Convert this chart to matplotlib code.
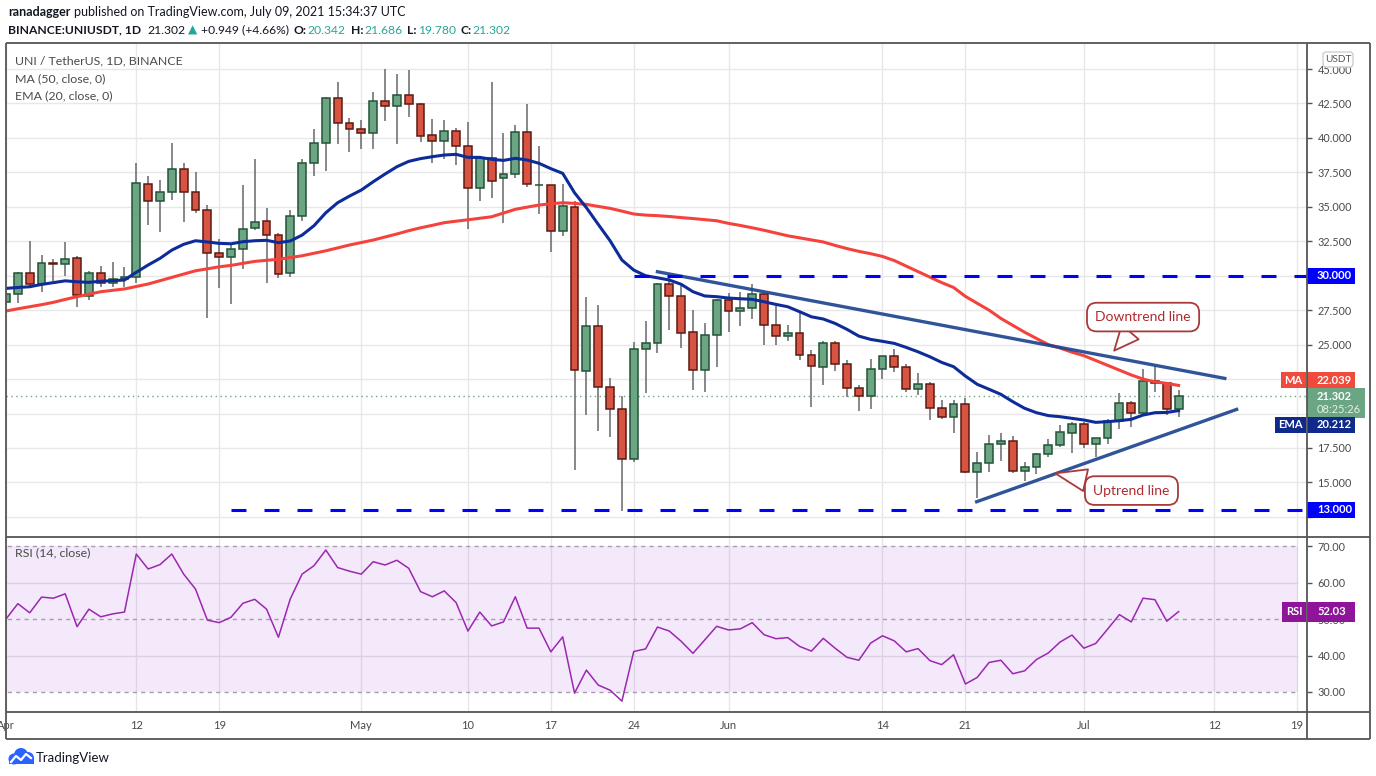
import matplotlib.pyplot as plt
from matplotlib.patches import Rectangle, FancyBboxPatch, Circle
import numpy as np
import pandas as pd

plt.rcParams['font.family'] = ['Lato', 'DejaVu Sans']
plt.rcParams['lines.scale_dashes'] = True

# ---- data (UNI/USDT daily, Binance) ----
dates = pd.date_range('2021-04-01', '2021-07-09', freq='D')

opens = [28.10, 28.65, 30.17, 29.37, 30.90, 30.83, 31.26, 28.50, 30.17, 29.50,
         29.74, 29.90, 36.63, 35.40, 36.05, 37.72, 36.10, 34.75, 31.63, 31.33,
         31.92, 33.44, 33.95, 32.93, 30.17, 34.30, 38.16, 39.60, 42.87, 41.06,
         40.63, 40.33, 42.66, 42.30, 43.10, 42.44, 40.19, 39.75, 40.48, 39.39,
         36.34, 38.52, 37.10, 37.39, 40.40, 36.56, 36.56, 33.22, 34.97, 23.07,
         26.33, 21.90, 20.30, 16.68, 24.66, 25.10, 29.38, 28.50, 25.90, 23.14,
         25.68, 28.22, 27.42, 27.63, 28.65, 26.40, 25.60, 25.82, 24.22, 23.35,
         25.10, 23.57, 21.83, 21.25, 23.20, 24.15, 23.35, 21.76, 22.12, 20.38,
         19.73, 20.67, 15.73, 16.38, 17.76, 17.98, 15.80, 16.10, 17.04, 17.69,
         18.56, 19.22, 17.77, 18.20, 19.43, 20.74, 20.02, 22.34, 22.19, 20.342]
highs = [28.80, 30.30, 32.50, 31.50, 31.20, 32.45, 31.40, 30.34, 30.70, 31.00,
         30.60, 38.16, 37.23, 36.95, 39.63, 38.16, 37.50, 35.13, 32.70, 32.40,
         36.58, 38.47, 34.90, 33.08, 34.80, 38.50, 40.65, 42.95, 44.06, 41.44,
         41.30, 43.30, 45.00, 44.64, 44.93, 42.55, 41.37, 41.30, 40.70, 41.15,
         38.60, 44.06, 40.36, 40.94, 42.46, 39.40, 36.60, 36.63, 35.44, 28.43,
         27.90, 22.55, 21.27, 25.17, 26.70, 29.50, 29.80, 29.38, 27.49, 26.60,
         28.30, 28.72, 28.80, 29.38, 28.72, 27.78, 26.40, 27.34, 24.59, 25.24,
         25.24, 23.90, 22.05, 23.96, 24.20, 24.66, 23.57, 22.92, 22.26, 20.96,
         20.96, 21.10, 17.18, 18.42, 18.56, 18.35, 16.46, 17.10, 18.13, 19.14,
         19.36, 19.36, 18.25, 19.58, 21.47, 20.93, 23.20, 23.47, 22.30, 21.686]
lows = [27.90, 28.00, 29.20, 28.85, 29.60, 30.00, 27.75, 28.24, 29.20, 29.20,
        29.16, 29.50, 33.70, 33.20, 35.50, 33.90, 34.57, 26.95, 29.10, 27.97,
        30.47, 33.30, 29.50, 29.80, 29.93, 34.00, 37.26, 37.60, 39.58, 39.00,
        39.17, 39.17, 41.20, 39.54, 41.50, 39.72, 38.20, 38.50, 38.05, 33.40,
        35.45, 35.66, 33.85, 37.07, 36.46, 34.46, 31.74, 32.90, 15.90, 19.90,
        18.75, 18.30, 12.95, 16.46, 21.47, 24.37, 26.08, 24.78, 21.73, 21.58,
        23.40, 25.90, 26.33, 26.84, 24.95, 25.00, 25.24, 23.86, 20.45, 22.05,
        23.06, 21.20, 20.20, 20.35, 22.48, 23.00, 21.54, 21.33, 19.50, 19.60,
        18.56, 15.66, 13.85, 15.73, 16.53, 15.66, 15.08, 15.59, 16.82, 17.55,
        17.10, 17.48, 16.87, 17.77, 18.85, 18.99, 19.91, 21.58, 19.86, 19.780]
closes = [28.67, 30.17, 29.37, 30.90, 30.85, 31.19, 28.58, 30.17, 29.50, 29.74,
          29.90, 36.70, 35.40, 36.05, 37.72, 36.10, 34.75, 31.63, 31.33, 31.92,
          33.37, 33.90, 32.93, 30.10, 34.30, 38.16, 39.60, 42.87, 41.06, 40.63,
          40.33, 42.66, 42.30, 43.10, 42.44, 40.16, 39.75, 40.48, 39.39, 36.34,
          38.52, 36.85, 37.39, 40.40, 36.63, 36.58, 33.22, 35.04, 23.14, 26.33,
          21.90, 20.30, 16.68, 24.66, 25.10, 29.38, 28.50, 25.82, 23.14, 25.68,
          28.22, 27.42, 27.63, 28.65, 26.40, 25.60, 25.82, 24.22, 23.43, 25.10,
          23.57, 21.83, 21.25, 23.20, 24.15, 23.35, 21.76, 22.12, 20.38, 19.73,
          20.67, 15.73, 16.38, 17.76, 17.98, 15.80, 16.10, 17.04, 17.69, 18.63,
          19.22, 17.77, 18.20, 19.43, 20.74, 20.02, 22.34, 22.19, 20.30, 21.302]

ma50 = [27.44, 27.60, 27.75, 27.90, 28.07, 28.28, 28.48, 28.66, 28.84, 28.94,
        29.04, 29.22, 29.40, 29.64, 29.88, 30.12, 30.36, 30.50, 30.65, 30.75,
        30.90, 31.04, 31.12, 31.19, 31.32, 31.45, 31.63, 31.81, 32.02, 32.23,
        32.41, 32.59, 32.81, 33.03, 33.27, 33.48, 33.66, 33.85, 33.96, 34.06,
        34.17, 34.28, 34.55, 34.82, 34.98, 35.13, 35.22, 35.30, 35.25, 35.18,
        35.03, 34.89, 34.69, 34.48, 34.40, 34.36, 34.30, 34.22, 34.15, 34.07,
        33.99, 33.80, 33.65, 33.48, 33.30, 33.10, 32.90, 32.75, 32.60, 32.45,
        32.20, 31.97, 31.77, 31.60, 31.40, 31.10, 30.70, 30.30, 29.90, 29.50,
        29.15, 28.50, 28.00, 27.50, 26.90, 26.40, 25.90, 25.45, 25.00, 24.75,
        24.45, 24.20, 23.85, 23.50, 23.15, 22.80, 22.50, 22.30, 22.19, 22.039]
ema20 = [29.08, 29.15, 29.20, 29.37, 29.50, 29.63, 29.56, 29.52, 29.60, 29.64,
         29.69, 30.25, 30.78, 31.26, 31.86, 32.28, 32.54, 32.45, 32.35, 32.32,
         32.47, 32.54, 32.57, 32.40, 32.52, 32.95, 33.63, 34.57, 35.30, 35.78,
         36.22, 36.82, 37.38, 37.91, 38.30, 38.50, 38.64, 38.76, 38.81, 38.59,
         38.59, 38.45, 38.37, 38.52, 38.40, 38.16, 37.77, 37.43, 36.02, 34.94,
         33.73, 32.54, 31.14, 30.41, 30.00, 29.85, 29.69, 29.38, 28.84, 28.53,
         28.48, 28.38, 28.33, 28.29, 28.11, 27.92, 27.75, 27.39, 27.02, 26.86,
         26.54, 26.11, 25.62, 25.38, 25.24, 25.09, 24.80, 24.48, 24.12, 23.71,
         23.40, 22.72, 22.12, 21.76, 21.39, 20.86, 20.38, 20.06, 19.85, 19.77,
         19.65, 19.53, 19.36, 19.41, 19.48, 19.58, 19.89, 20.06, 20.08, 20.212]
rsi14 = [50.0, 54.2, 51.7, 56.0, 55.7, 56.9, 47.9, 52.7, 50.6, 51.4,
         51.9, 67.8, 63.7, 64.9, 67.8, 62.3, 58.2, 49.7, 49.0, 50.5,
         54.3, 55.4, 52.7, 45.0, 55.5, 62.3, 64.6, 68.9, 64.1, 63.1,
         62.3, 65.7, 64.8, 66.1, 63.9, 57.5, 56.1, 57.7, 54.5, 46.7,
         51.9, 48.1, 49.2, 56.1, 47.5, 47.5, 41.0, 45.1, 29.7, 36.0,
         31.9, 30.5, 27.5, 41.1, 41.8, 47.8, 46.7, 43.9, 40.6, 44.3,
         48.0, 47.0, 47.3, 49.0, 45.7, 44.6, 44.9, 42.5, 41.2, 44.7,
         42.0, 39.5, 38.7, 43.4, 45.4, 44.0, 41.0, 41.9, 38.6, 37.5,
         40.2, 32.2, 34.0, 38.1, 38.7, 35.0, 35.8, 38.9, 40.7, 43.7,
         45.6, 42.0, 43.3, 47.2, 51.2, 49.2, 55.7, 55.3, 49.4, 52.03]

tick_days = ['2021-04-01', '2021-04-12', '2021-04-19', '2021-05-01', '2021-05-10',
             '2021-05-17', '2021-05-24', '2021-06-01', '2021-06-14', '2021-06-21',
             '2021-07-01', '2021-07-12', '2021-07-19']

support_level, support_from = 13.0, '2021-04-20'
resist_level, resist_from = 30.0, '2021-05-24'
# trendlines: (bar position, price) at both ends
down_x, down_y = [55.0, 102.9], [30.29, 22.55]
up_x, up_y = [81.95, 103.9], [13.6, 20.3]
ma_last, ema_last, rsi_last = 22.039, 20.212, 52.03

# ---- layout ----
W, H = 1376, 776
fig = plt.figure(figsize=(W / 100, H / 100), dpi=100)
fig.patch.set_facecolor('white')


def px_axes(l, t, r, b):
    return fig.add_axes([l / W, 1 - b / H, (r - l) / W, (b - t) / H])


ax = px_axes(6, 43, 1307, 537)
ax2 = px_axes(6, 537, 1307, 712)

x = np.arange(len(dates))
base = dates[0]
tick_idx = [(pd.Timestamp(d) - base).days for d in tick_days]
tick_lab = [pd.Timestamp(d).strftime('%b') if pd.Timestamp(d).day == 1 else str(pd.Timestamp(d).day)
            for d in tick_days]

X0, X1 = 0.118, 109.84
for a in (ax, ax2):
    a.set_xlim(X0, X1)
    for s in a.spines.values():
        s.set_visible(False)
    a.set_xticks(tick_idx)
    a.set_axisbelow(True)
ax.set_ylim(11.04, 46.89)
ax2.set_ylim(24.52, 72.47)


def py(a, v):
    return H - a.transData.transform((0, v))[1]


# price tags on the right axis: (pixel centre, height)
tag_ma_y = py(ax, ma_last) - 5
tag_last_y = py(ax, closes[-1]) + 7.5
tag_ema_y = py(ax, ema_last) + 14
tag_spans = [(py(ax, resist_level), 16), (py(ax, support_level), 16), (tag_ma_y, 16),
             (tag_last_y, 30), (tag_ema_y, 16)]

# ---- price panel ----
ax.grid(True, color='#e8e8e8', lw=1)
ax.set_xticklabels([])
ax.tick_params(axis='x', length=0)
ax.yaxis.tick_right()
yt = np.arange(12.5, 45.01, 2.5)
ax.set_yticks(yt)
ylabels = []
for v in yt:
    hidden = any(abs(py(ax, v) - yc) < hh / 2 + 5 for yc, hh in tag_spans)
    ylabels.append('' if hidden else f'{v:.3f}')
ax.set_yticklabels(ylabels)
ax.tick_params(axis='y', direction='out', length=3.5, width=1, color='#555555',
               labelcolor='#4a4a4a', labelsize=7.8, pad=4)

o = np.array(opens); c = np.array(closes); hi = np.array(highs); lo = np.array(lows)
up = c >= o
ax.vlines(x, lo, hi, color='#737375', lw=1.2, zorder=2)
ax.bar(x, np.maximum(np.abs(c - o), 0.06), bottom=np.minimum(o, c), width=0.66,
       color=np.where(up, '#6ba583', '#d75442'), edgecolor=np.where(up, '#225437', '#5b1a13'),
       linewidth=1.1, zorder=3)

ax.axhline(closes[-1], color='#6ba583', lw=1, ls=(0, (1, 2.5)), zorder=1)
ax.plot(x, ma50, color='#f4433c', lw=2.2, zorder=4)
ax.plot(x, ema20, color='#0d2c99', lw=2.2, zorder=4)
ax.plot(down_x, down_y, color='#1f4591', lw=2.4, alpha=0.92, zorder=5)
ax.plot(up_x, up_y, color='#1f4591', lw=2.4, alpha=0.92, zorder=5)

s_i = (pd.Timestamp(support_from) - base).days
r_i = (pd.Timestamp(resist_from) - base).days
ax.plot([s_i, X1 + 5], [support_level] * 2, color='#0000ff', lw=2.2, dashes=(4.9, 5.9), zorder=5)
ax.plot([r_i, X1 + 5], [resist_level] * 2, color='#0000ff', lw=2.2, dashes=(4.9, 5.9), zorder=5)

callout_ec, callout_tc = '#a83a3a', '#b02a2e'
ax.annotate('Downtrend line', xy=(93.56, 24.56), xytext=(96.0, 27.0), ha='center', va='center',
            fontsize=10, color=callout_tc, zorder=6,
            bbox=dict(boxstyle='round,pad=0.6,rounding_size=0.7', fc='white', ec=callout_ec, lw=1.3),
            arrowprops=dict(arrowstyle='wedge,tail_width=1.6,shrink_factor=0.5', fc='white',
                            ec=callout_ec, lw=1.3, shrinkA=0, shrinkB=0))
ax.annotate('Uptrend line', xy=(88.59, 15.66), xytext=(95.02, 14.41), ha='center', va='center',
            fontsize=10, color=callout_tc, zorder=6,
            bbox=dict(boxstyle='round,pad=0.6,rounding_size=0.7', fc='white', ec=callout_ec, lw=1.3),
            arrowprops=dict(arrowstyle='wedge,tail_width=1.6,shrink_factor=0.5', fc='white',
                            ec=callout_ec, lw=1.3, shrinkA=0, shrinkB=0))

# ---- RSI panel ----
ax2.grid(axis='x', color='#e6e6e6', lw=1)
ax2.set_xticklabels(tick_lab)
ax2.tick_params(axis='x', length=0, pad=6, labelsize=8, labelcolor='#4a4a4a')
ax2.yaxis.tick_right()
ax2.set_yticks([30, 40, 50, 60, 70])
ax2.set_yticklabels(['30.00', '40.00', '50.00', '60.00', '70.00'])
ax2.tick_params(axis='y', direction='out', length=3.5, width=1, color='#555555',
                labelcolor='#4a4a4a', labelsize=7.8, pad=4)
band_end = 109.08
ax2.fill_between([X0 - 1, band_end], 30, 70, color='#a050e0', alpha=0.12, lw=0, zorder=1)
ax2.hlines([40, 60], X0 - 1, band_end, colors='#dcd0e4', lw=1, zorder=1.5)
ax2.hlines([30, 50, 70], X0 - 1, band_end, colors='#a89cae', lw=1, linestyles=(0, (3, 3)), zorder=1.5)
ax2.plot(x, rsi14, color='#9c27b0', lw=1.1, zorder=4)

# ---- overlay in pixel coordinates: frame, header, tags ----
ov = fig.add_axes([0, 0, 1, 1])
ov.set_xlim(0, W); ov.set_ylim(H, 0); ov.axis('off')

frame_c = '#555555'
for (xa, ya, xb, yb) in [(6, 43, 1370, 43), (6, 739, 1370, 739), (6, 43, 6, 739),
                         (1370, 43, 1370, 739), (6, 537, 1370, 537), (6, 712, 1370, 712),
                         (1307, 43, 1307, 739)]:
    ov.plot([xa, xb], [ya, yb], color=frame_c, lw=1.3, solid_capstyle='butt')


def chain(parts, x0, y0, size):
    prev = None
    for txt, col, wt, gap in parts:
        if prev is None:
            prev = ov.text(x0, y0, txt, color=col, fontweight=wt, fontsize=size, va='center', ha='left')
        else:
            prev = ov.annotate(txt, xy=(1, 0), xycoords=prev, xytext=(gap, 0), textcoords='offset pixels',
                               va='bottom', ha='left', color=col, fontweight=wt, fontsize=size)


dark, teal = '#131722', '#26a69a'
chain([('ranadagger', dark, 'bold', 0),
       ('published on TradingView.com, July 09, 2021 15:34:37 UTC', dark, 'normal', 3)], 8, 12, 9.0)
chain([('BINANCE:UNIUSDT, 1D', dark, 'bold', 0), (f'{closes[-1]:.3f}', dark, 'normal', 6),
       ('\u25B2', teal, 'normal', 3), ('+0.949 (+4.66%)', dark, 'normal', 3),
       ('O:', dark, 'bold', 5), (f'{opens[-1]:.3f}', teal, 'normal', 1),
       ('H:', dark, 'bold', 5), (f'{highs[-1]:.3f}', teal, 'normal', 1),
       ('L:', dark, 'bold', 5), (f'{lows[-1]:.3f}', teal, 'normal', 1),
       ('C:', dark, 'bold', 5), (f'{closes[-1]:.3f}', teal, 'normal', 1)], 8, 30, 8.75)

legend_c = '#4a4a4a'
ov.text(15, 61, 'UNI / TetherUS, 1D, BINANCE', fontsize=8.9, color=legend_c, va='center')
ov.text(15, 79, 'MA (50, close, 0)', fontsize=8.9, color=legend_c, va='center')
ov.text(15, 96, 'EMA (20, close, 0)', fontsize=8.9, color=legend_c, va='center')
ov.text(15, 553, 'RSI (14, close)', fontsize=8.9, color=legend_c, va='center')

# USDT badge
ov.add_patch(FancyBboxPatch((1323, 52), 30, 15, boxstyle='round,pad=0,rounding_size=3',
                            fc='white', ec='#cfcfcf', lw=1))
ov.text(1338, 59.5, 'USDT', fontsize=7.2, color='#555555', ha='center', va='center')


def tag(yc, txt, fc, left_txt=None, left_w=0, right_w=48, h=16, tc='white'):
    ov.add_patch(Rectangle((1307, yc - h / 2), right_w, h, fc=fc, ec='none'))
    ov.text(1317, yc, txt, color=tc, fontsize=8, fontweight='bold', va='center', ha='left')
    if left_txt:
        ov.add_patch(Rectangle((1306 - left_w, yc - h / 2), left_w, h, fc=fc, ec='none'))
        ov.text(1306 - left_w / 2, yc, left_txt, color='white', fontsize=8, fontweight='bold',
                va='center', ha='center')


tag(py(ax, resist_level), f'{resist_level:.3f}', '#0000ff')
tag(py(ax, support_level), f'{support_level:.3f}', '#0000ff')
tag(tag_ma_y, f'{ma_last:.3f}', '#f04a3c', 'MA', 25)
ov.add_patch(Rectangle((1307, tag_last_y - 15), 58, 30, fc='#6ba583', ec='none'))
ov.text(1317, tag_last_y - 6.5, f'{closes[-1]:.3f}', color='white', fontsize=8, fontweight='bold', va='center')
ov.text(1317, tag_last_y + 6.5, '08:25:26', color='#e2f0e8', fontsize=8, va='center')
tag(tag_ema_y, f'{ema_last:.3f}', '#102a8c', 'EMA', 31)
tag(py(ax2, rsi_last), f'{rsi_last:.2f}', '#8e1599', 'RSI', 24, right_w=48, h=20)

# TradingView logo
logo = '#2962ff'
for cx, cy, r in [(14, 759, 5.5), (21, 755, 7), (28, 758, 6)]:
    ov.add_patch(Circle((cx, cy), r, fc=logo, ec='none'))
ov.add_patch(Rectangle((8.5, 758), 25, 6, fc=logo, ec='none'))
ov.plot([11, 16, 21, 26, 31], [762, 756, 760, 754, 758], color='white', lw=1.6)
ov.text(36, 758, 'TradingView', fontsize=9.5, color=dark, va='center', ha='left')

fig.savefig('out.png', dpi=100)
